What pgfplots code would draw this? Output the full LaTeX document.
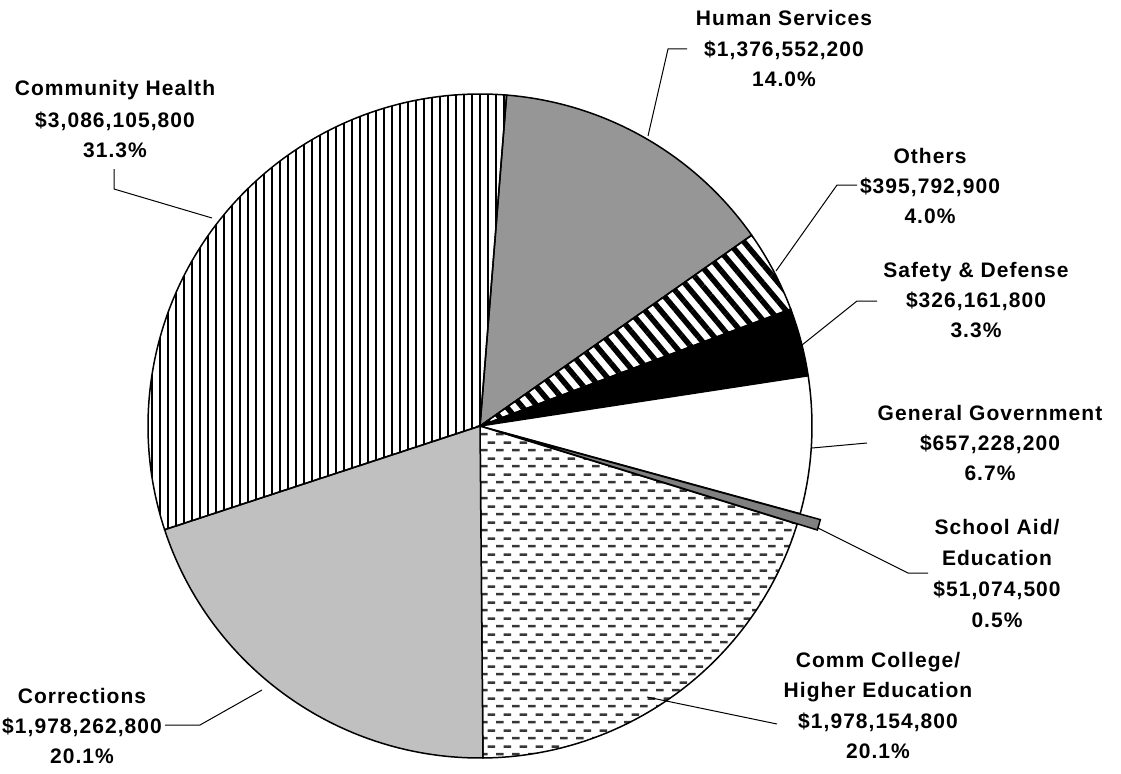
\documentclass[border=0pt]{standalone}
\usepackage{pgfplots}
\pgfplotsset{compat=1.18}
\usepackage{pgfplotstable}
\usepackage{fontspec}
\setmainfont{Liberation Sans}[LetterSpace=5]
\usetikzlibrary{patterns,patterns.meta}

% horizontal dashes, staggered rows
\pgfdeclarepatternformonly{hdash}{\pgfpointorigin}{\pgfpoint{16bp}{16bp}}{\pgfpoint{16bp}{16bp}}{%
  \pgfsetlinewidth{2.6bp}%
  \pgfpathmoveto{\pgfpoint{0bp}{4bp}}\pgfpathlineto{\pgfpoint{8bp}{4bp}}%
  \pgfpathmoveto{\pgfpoint{8bp}{12bp}}\pgfpathlineto{\pgfpoint{16bp}{12bp}}%
  \pgfusepath{stroke}}

\definecolor{hsgray}{RGB}{150,150,150}
\definecolor{sagray}{RGB}{128,128,128}
\definecolor{cogray}{RGB}{192,192,192}
\definecolor{dashgray}{RGB}{55,55,55}

\tikzset{
  lab/.style={anchor=base, inner sep=0pt,
    font=\bfseries\fontsize{21bp}{24bp}\selectfont},
  lead/.style={draw=black, line width=1bp},
}

% values in millions of dollars, clockwise from the top
\pgfplotstableread{
name value
HumanServices    1376.5522
Others           395.7929
SafetyDefense    326.1618
GeneralGov       657.2282
SchoolAid        51.0745
CommCollege      1978.1548
Corrections      1978.2628
CommunityHealth  3086.1058
}\budget

% slice #1 of the table, pushed out by #2 px, drawn with style #3
\newcommand\pieslice[3]{%
  \filldraw[draw=black,line width=1.5bp,#3]
    (axis cs:{480+#2*cos((\csname s#1\endcsname+\csname e#1\endcsname)/2)},{426-#2*sin((\csname s#1\endcsname+\csname e#1\endcsname)/2)})
    -- ++(\csname s#1\endcsname:332bp)
    arc[start angle=\csname s#1\endcsname, end angle=\csname e#1\endcsname, radius=332bp] -- cycle;}

\begin{document}
\begin{tikzpicture}
\def\total{0}
\pgfplotsforeachungrouped \i in {0,...,7}{%
  \pgfplotstablegetelem{\i}{value}\of\budget
  \pgfmathsetmacro\total{\total+\pgfplotsretval}}
\def\cur{85.4}
\pgfplotsforeachungrouped \i in {0,...,7}{%
  \pgfplotstablegetelem{\i}{value}\of\budget
  \expandafter\xdef\csname s\i\endcsname{\cur}%
  \pgfmathsetmacro\cur{\cur-\pgfplotsretval/\total*360}%
  \expandafter\xdef\csname e\i\endcsname{\cur}}
\begin{axis}[
    x=1bp, y=1bp, y dir=reverse,
    xmin=0, xmax=1121, ymin=0, ymax=774,
    hide axis, clip=false,
]
\pieslice{0}{0}{fill=hsgray}
\pieslice{1}{0}{pattern={Lines[angle=-50,distance=12bp,line width=5.5bp]}}
\pieslice{2}{0}{fill=black}
\pieslice{3}{0}{fill=white}
\pieslice{5}{0}{pattern=hdash, pattern color=dashgray}
\pieslice{6}{0}{fill=cogray}
\pieslice{7}{0}{pattern={Lines[angle=90,distance=8bp,line width=2.6bp]}}
\pieslice{4}{21}{fill=sagray}

% leader lines
\draw[lead] (axis cs:114,169) -- (axis cs:114,189) -- (axis cs:212,218);
\draw[lead] (axis cs:687,49) -- (axis cs:668,49) -- (axis cs:648,136);
\draw[lead] (axis cs:857,185) -- (axis cs:837,185) -- (axis cs:776,271);
\draw[lead] (axis cs:877,301) -- (axis cs:857,301) -- (axis cs:802,345);
\draw[lead] (axis cs:867,443) -- (axis cs:812,448);
\draw[lead] (axis cs:928,573) -- (axis cs:908,573) -- (axis cs:818,528);
\draw[lead] (axis cs:647,697) -- (axis cs:777,724);
\draw[lead] (axis cs:165,725) -- (axis cs:200,725) -- (axis cs:262,690);

% labels
\node[lab] at (axis cs:115,96)  {Community Health};
\node[lab] at (axis cs:115,127) {\$3,086,105,800};
\node[lab] at (axis cs:115,157) {31.3\%};

\node[lab] at (axis cs:784,26) {Human Services};
\node[lab] at (axis cs:784,57) {\$1,376,552,200};
\node[lab] at (axis cs:784,87) {14.0\%};

\node[lab] at (axis cs:930,163) {Others};
\node[lab] at (axis cs:930,193) {\$395,792,900};
\node[lab] at (axis cs:930,223) {4.0\%};

\node[lab] at (axis cs:976,277) {Safety \& Defense};
\node[lab] at (axis cs:976,307) {\$326,161,800};
\node[lab] at (axis cs:976,337) {3.3\%};

\node[lab] at (axis cs:990,420) {General Government};
\node[lab] at (axis cs:990,450) {\$657,228,200};
\node[lab] at (axis cs:990,480) {6.7\%};

\node[lab] at (axis cs:997,534) {School Aid/};
\node[lab] at (axis cs:997,565) {Education};
\node[lab] at (axis cs:997,596) {\$51,074,500};
\node[lab] at (axis cs:997,627) {0.5\%};

\node[lab] at (axis cs:878,667) {Comm College/};
\node[lab] at (axis cs:878,697) {Higher Education};
\node[lab] at (axis cs:878,728) {\$1,978,154,800};
\node[lab] at (axis cs:878,758) {20.1\%};

\node[lab] at (axis cs:82,703) {Corrections};
\node[lab] at (axis cs:82,733) {\$1,978,262,800};
\node[lab] at (axis cs:82,763) {20.1\%};
\end{axis}
\pgfresetboundingbox
\useasboundingbox (current axis.south west) rectangle (current axis.north east);
\end{tikzpicture}
\end{document}
